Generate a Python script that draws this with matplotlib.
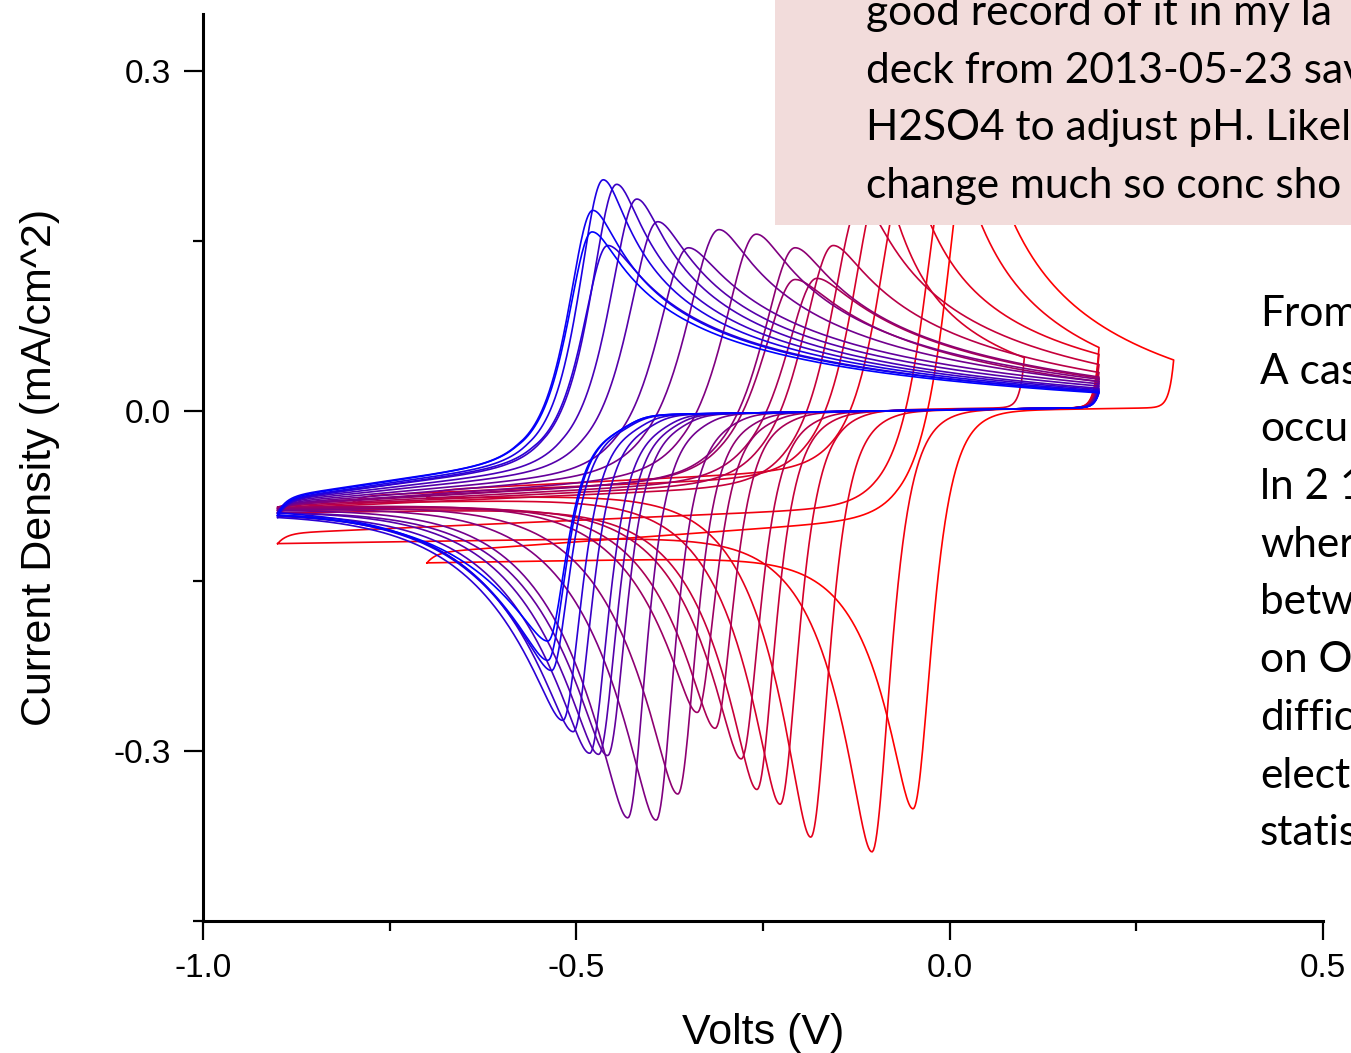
import numpy as np
import matplotlib
matplotlib.use("Agg")
import matplotlib.pyplot as plt
from matplotlib.patches import Rectangle

# ---- values (V, mA/cm^2); index 0 = bluest scan, 18 = reddest ----
epa = [-0.479, -0.478, -0.464, -0.458, -0.446, -0.419, -0.391, -0.350, -0.309, -0.259,
       -0.207, -0.207, -0.178, -0.156, -0.119, -0.093, -0.060, 0.000, 0.030]
ipa = [0.158, 0.177, 0.204, 0.146, 0.200, 0.187, 0.167, 0.144, 0.160, 0.156,
       0.144, 0.116, 0.117, 0.146, 0.185, 0.200, 0.210, 0.230, 0.260]
w_ox = [0.030, 0.030, 0.030, 0.031, 0.032, 0.034, 0.036, 0.038, 0.040, 0.040,
        0.040, 0.040, 0.039, 0.038, 0.036, 0.034, 0.032, 0.030, 0.030]
epc = [-0.538, -0.538, -0.533, -0.518, -0.504, -0.482, -0.470, -0.458, -0.431, -0.393,
       -0.364, -0.338, -0.314, -0.279, -0.258, -0.227, -0.186, -0.104, -0.049]
ipc = [-0.203, -0.220, -0.229, -0.273, -0.283, -0.302, -0.303, -0.304, -0.359, -0.361,
       -0.338, -0.266, -0.280, -0.307, -0.334, -0.347, -0.376, -0.389, -0.351]
e_lo = [-0.9] * 15 + [-0.8, -0.7, -0.9, -0.7]
e_hi = [0.2] * 15 + [0.1, 0.2, 0.2, 0.3]
i_lo = [-0.092, -0.090, -0.092, -0.094, -0.093, -0.092, -0.090, -0.090, -0.088, -0.087,
        -0.086, -0.085, -0.086, -0.088, -0.090, -0.081, -0.077, -0.117, -0.134]
f_lo = [-0.077, -0.076, -0.078, -0.079, -0.078, -0.079, -0.080, -0.081, -0.082, -0.083,
        -0.083, -0.082, -0.084, -0.085, -0.086, -0.075, -0.070, -0.108, -0.125]
f_pre = [-0.045, -0.045, -0.046, -0.047, -0.048, -0.050, -0.052, -0.054, -0.056, -0.058,
         -0.060, -0.060, -0.062, -0.064, -0.066, -0.058, -0.052, -0.085, -0.095]
i_end = [0.016, 0.017, 0.018, 0.017, 0.019, 0.020, 0.022, 0.024, 0.026, 0.028,
         0.030, 0.026, 0.029, 0.034, 0.041, 0.047, 0.050, 0.056, 0.045]

xticks = [-1.0, -0.5, 0.0, 0.5]
yticks = [-0.3, 0.0, 0.3]

box_lines = ["good record of it in my la", "deck from 2013-05-23 sav",
             "H2SO4 to adjust pH. Likel", "change much so conc sho"]
side_lines = ["From", "A cas", "occu", "ln 2 1", "wher", "betw",
              "on O", "diffic", "elect", "statis"]


def soft(d, s):
    return np.sqrt(d ** 2 + s ** 2) - s


def loop_curve(k, n=700):
    """One CV loop: forward sweep e_lo -> e_hi, then back."""
    t = k / 18.0
    wr = w_ox[k]
    wc = 0.022
    lam = 0.11 - 0.06 * t

    # forward sweep
    ef = np.linspace(e_lo[k], e_hi[k], n)
    frac = np.clip((ef - e_lo[k]) / (epa[k] - 0.1 - e_lo[k]), 0, 1)
    base = f_lo[k] + (f_pre[k] - f_lo[k]) * frac
    base += (i_lo[k] - f_lo[k]) * np.exp(-(ef - e_lo[k]) / 0.012)
    amp = ipa[k] - f_pre[k]
    g_end = (i_end[k] - f_pre[k]) / amp
    d_end = soft(e_hi[k] - epa[k], 0.02)
    t0 = g_end ** 2 * d_end / (1 - g_end ** 2)
    d = ef - epa[k]
    g = np.where(d < 0, 1 / np.cosh(d / wr),
                 np.sqrt(t0 / (soft(np.maximum(d, 0), 0.02) + t0)))
    i_f = base + amp * g

    # reverse sweep
    er = np.linspace(e_hi[k], e_lo[k], n)

    def rbase(e):
        sh = -0.012 * (1 - t) / (1 + np.exp((e - (epc[k] + 0.11)) / 0.012))
        return 0.003 - 0.01 * (e_hi[k] - e) + sh

    rb = rbase(er) + (i_end[k] - 0.003) * np.exp(-(e_hi[k] - er) / 0.006)
    net = ipc[k] - rbase(epc[k])
    k_lo = np.exp(-soft(epc[k] - e_lo[k], 0.015) / lam)
    p = ((i_lo[k] - rbase(e_lo[k])) / net - k_lo) / (1 - k_lo)
    dr = er - epc[k]
    h = np.where(dr > 0, 1 / np.cosh(dr / wc),
                 p + (1 - p) * np.exp(-soft(np.minimum(dr, 0), 0.015) / lam))
    i_r = rb + net * h

    return np.concatenate([ef, er]), np.concatenate([i_f, i_r])


fig = plt.figure(figsize=(13.51, 10.53), dpi=100)
ax = fig.add_axes([203 / 1351, 132 / 1053, 1120 / 1351, 906.7 / 1053])

for k in range(18, -1, -1):
    t = k / 18.0
    x, y = loop_curve(k)
    ax.plot(x, y, color=(t, 0, 1 - t), lw=1.2, zorder=3 + (18 - k) * 0.01)

ax.set_xlim(-1.0, 0.5)
ax.set_ylim(-0.45, 0.35)
ax.set_xticks(xticks)
ax.set_xticklabels(["%.1f" % v for v in xticks])
ax.set_xticks([-0.75, -0.25, 0.25], minor=True)
ax.set_yticks(yticks)
ax.set_yticklabels(["%.1f" % v for v in yticks])
ax.set_yticks([-0.45, -0.15, 0.15], minor=True)

for side in ["top", "right"]:
    ax.spines[side].set_visible(False)
for side in ["left", "bottom"]:
    ax.spines[side].set_linewidth(2.2)
ax.tick_params(which="major", length=14, width=1.6, direction="out",
               labelsize=24, pad=9)
ax.tick_params(which="minor", length=7, width=1.6, direction="out")
for lab in ax.get_xticklabels() + ax.get_yticklabels():
    lab.set_fontfamily("Liberation Sans")

ax.set_xlabel("Volts (V)", fontsize=31, fontfamily="Liberation Sans", va="top")
ax.xaxis.set_label_coords(0.5, -0.1015)
ax.set_ylabel("Current Density (mA/cm^2)", fontsize=31, fontfamily="Liberation Sans")
ax.yaxis.set_label_coords(-0.1277, 0.5)

# slide text box over the top right corner
fig.add_artist(Rectangle((775 / 1351, 1 - 225 / 1053), 0.5, 0.3,
                         transform=fig.transFigure, facecolor="#f2dcdb",
                         edgecolor="none", zorder=10))
for j, line in enumerate(box_lines):
    fig.text(866 / 1351, 1 - (25 + 57.7 * j) / 1053, line, fontsize=30.5,
             fontfamily="Lato", va="baseline", zorder=11)
for j, line in enumerate(side_lines):
    fig.text(1260 / 1351, 1 - (326 + 57.7 * j) / 1053, line, fontsize=30.5,
             fontfamily="Lato", va="baseline", zorder=11)

fig.savefig("out.png", dpi=100)
